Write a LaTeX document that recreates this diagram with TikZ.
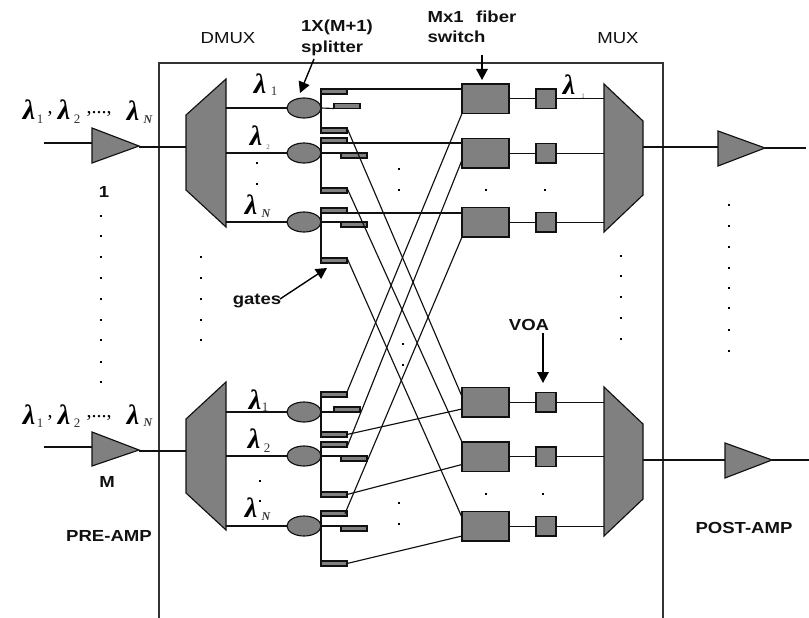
\documentclass[tikz,border=0pt]{standalone}
\usepackage{fontspec}
\usetikzlibrary{shapes.geometric,arrows.meta}
\setmainfont{Liberation Sans}
\newfontfamily\lab[FakeStretch=1.16]{Liberation Sans}
\newfontfamily\lamfont{Liberation Serif}
\definecolor{dev}{HTML}{808080}
\definecolor{ink}{HTML}{111111}
\newcommand{\lamglyph}{{\fontsize{28}{28}\selectfont\lamfont\bfseries\itshape λ}}
\tikzset{
  x=1pt,y=-1pt,
  wire/.style={draw=ink,line width=1.15pt},
  device/.style={draw=ink,line width=1.15pt,fill=dev},
  gatebox/.style={device,anchor=north west,minimum width=26pt,minimum height=5pt,inner sep=0pt,outer sep=0pt},
  swbox/.style={device,anchor=north west,minimum width=47pt,minimum height=29.5pt,inner sep=0pt,outer sep=0pt},
  voabox/.style={device,anchor=north west,minimum width=20pt,minimum height=19.5pt,inner sep=0pt,outer sep=0pt},
  splitbox/.style={device,ellipse,minimum width=34pt,minimum height=20pt,inner sep=0pt,outer sep=0pt},
  plain/.style={inner sep=0pt,outer sep=0pt,text=ink,font=\lab\fontsize{16}{18.5}\selectfont},
  bold/.style={plain,font=\lab\bfseries\fontsize{16}{20.5}\selectfont},
  lamnode/.style={inner sep=0pt,outer sep=0pt,text=black},
  subnode/.style={inner sep=0pt,outer sep=0pt,text=black!80,font=\lamfont\fontsize{13}{13}\selectfont},
  subn/.style={subnode,font=\lamfont\bfseries\itshape\fontsize{12}{12}\selectfont},
  tiny sub/.style={subnode,font=\lamfont\fontsize{7}{7}\selectfont,text=black!60},
  commas/.style={subnode,text=black,font=\lamfont\fontsize{20}{20}\selectfont},
  pointer/.style={draw=black,line width=1.4pt,-{Triangle[length=11pt,width=11.5pt]}},
}
\begin{document}
\begin{tikzpicture}
\useasboundingbox (0,0) rectangle (809,618);
% enclosure
\coordinate (boxa) at (159,618);\coordinate (boxb) at (159,63);\coordinate (boxc) at (663,63);\coordinate (boxd) at (663,618);
\draw[draw=black!80,line width=1.1pt] (boxa)--(boxb)--(boxc)--(boxd);
% wires of amplifiers, drawn under the shapes
\coordinate (in1) at (44,143);\coordinate (amp1w) at (92,143);\coordinate (amp1e) at (139,147);\coordinate (dm1w) at (186,147);
\coordinate (in2) at (44,447);\coordinate (amp2w) at (92,447);\coordinate (amp2e) at (139,451);\coordinate (dm2w) at (186,451);
\coordinate (mx1e) at (643,147);\coordinate (pa1w) at (718,147);\coordinate (pa1e) at (765,148);\coordinate (out1) at (806,148);
\coordinate (mx2e) at (643,460);\coordinate (pa2w) at (725,460);\coordinate (pa2e) at (772,460);\coordinate (out2) at (809,460);
\draw[wire] (in1)--(amp1w) (amp1e)--(dm1w) (in2)--(amp2w) (amp2e)--(dm2w);
\draw[wire] (mx1e)--(pa1w) (pa1e)--(out1) (mx2e)--(pa2w) (pa2e)--(out2);
% amplifiers
\draw[device] (92,128)--(139,146)--(92,163)--cycle;
\draw[device] (92,432)--(139,450)--(92,466)--cycle;
\draw[device] (718,131)--(765,148)--(718,166)--cycle;
\draw[device] (725,443)--(772,460)--(725,478)--cycle;
% demultiplexers and multiplexers
\draw[device] (186,115)--(226,79)--(226,227)--(186,190)--cycle;
\draw[device] (186,419)--(226,382)--(226,530)--(186,493)--cycle;
\draw[device] (604,84)--(643,121)--(643,195)--(604,232)--cycle;
\draw[device] (604,387)--(643,424)--(643,499)--(604,536)--cycle;
\coordinate (dmU) at (226,100);\coordinate (dmL) at (226,400);\coordinate (mxU) at (604,100);\coordinate (mxL) at (604,400);
% splitter blocks
\foreach \k/\dm/\sy/\ta/\mx/\my/\mb/\ba in {
 a/dmU/108/89/334/103.5/128/89,
 b/dmU/153/138/341/153/188/138,
 c/dmU/222/208/341/222/258/208,
 d/dmL/412/392/334/407/432/392,
 e/dmL/456/442/341/456/492/442,
 f/dmL/526/511/341/526/561/511}{
  \node[splitbox] (sp\k) at (304,\sy) {};
  \node[gatebox] (gt\k) at (321,\ta) {};
  \node[gatebox] (gm\k) at (\mx,\my) {};
  \node[gatebox] (gb\k) at (321,\mb) {};
  \draw[wire] (\dm |- sp\k.west) -- (sp\k.west);
  \draw[wire] (gt\k.north west) -- (gb\k.south west);
}
\draw[wire] (spa.east)--(gma.south west);
\draw[wire] (spb.east)--(gmb.north west);
\draw[wire] (spc.east)--(gmc.north west);
\draw[wire] (spd.east)--(gmd.south west);
\draw[wire] (spe.east)--(gme.north west);
\draw[wire] (spf.east)--(gmf.north west);
% switches and VOAs
\foreach \k/\mxn/\sy/\vy in {a/mxU/84/89,b/mxU/138.5/143.5,c/mxU/207.5/212.5,d/mxL/387.5/392.5,e/mxL/442/447,f/mxL/511.5/516.5}{
  \node[swbox] (sw\k) at (462,\sy) {};
  \node[voabox] (vo\k) at (536,\vy) {};
  \draw[wire] (sw\k.east)--(vo\k.west);
  \draw[wire] (vo\k.east)--(\mxn |- vo\k.east);
}
% straight gate-to-switch wires
\draw[wire] (gta.north east)--(gta.north east -| swa.west);
\draw[wire] (gtb.south east)--(gtb.south east -| swb.west);
\draw[wire] (gtc.south east)--(gtc.south east -| swc.west);
% crossing wires
\draw[wire] (gba.north east)--([yshift=-9pt]swd.north west);
\draw[wire] (gbb.north east)--(swe.north west);
\draw[wire] (gbc.north east)--([yshift=-6pt]swf.north west);
\draw[wire] (gtd.north east)--(swa.south west);
\draw[wire] (gte.south east)--([yshift=8pt]swb.south west);
\draw[wire] ([xshift=-2pt]gtf.east)--(swc.south west);
\draw[wire] (gbd.east)--([yshift=8pt]swd.south west);
\draw[wire] (gbe.east)--([yshift=7pt]swe.south west);
\draw[wire] (gbf.east)--([yshift=5pt]swf.south west);
% dots
\foreach \px/\py in {101/216,101/236,101/257,101/278,101/299,101/320,101/340,101/362,101/382,
 201/257,201/278,201/299,201/320,201/340,
 257/163,257/184,260/481,260/501,
 399/169,399/190,403/344,403/365,399/503,399/524,
 486/190,545/190,486/494,543/494,
 621/256,621/276,621/297,621/318,621/339,
 729/205,729/226,729/247,729/268,729/288,729/308,729/330,729/351}{
  \fill[black] (\px-1,\py-1) rectangle ++(2,2);
}
% lambdas
\foreach \k/\px/\py in {A/29/110,B/64/110,C/133/111,D/29/415,E/64/415,F/133/415,
  G/260/84,H/256/136,I/251/205,J/255/400,K/254/439,L/251/508,M/569/85}{
  \node[lamnode] (lam\k) at (\px,\py) {\lamglyph};
}
\node[subnode] (s1) at (40,119) {1};
\node[subnode] (s2) at (77,119) {2};
\node[subn] (s3) at (148,120) {N};
\node[subnode] (s4) at (40,423) {1};
\node[subnode] (s5) at (77,423) {2};
\node[subn] (s6) at (148,423) {N};
\node[subnode] (s7) at (274,91) {1};
\node[tiny sub] (s8) at (268,147) {2};
\node[subn] (s9) at (266,214) {N};
\node[subnode] (s10) at (265,407) {1};
\node[subnode] (s11) at (267,448) {2};
\node[subn] (s12) at (266,517) {N};
\node[tiny sub] (s13) at (583,96) {1};
\node[commas] (c1) at (50,114) {,};
\node[commas] (c2) at (99,114) {,...,};
\node[commas] (c3) at (50,418) {,};
\node[commas] (c4) at (99,418) {,...,};
% labels
\node[plain] (ldmux) at (228,38) {DMUX};
\node[plain] (lmux) at (618,38) {MUX};
\node[bold,align=left] (lsplit) at (337,38) {1X(M+1)\\splitter};
\node[bold,align=left] (lswitch) at (472,27) {Mx1\hspace{0.45em} fiber\\switch};
\node[bold] (lvoa) at (529,325) {VOA};
\node[bold] (lgates) at (257,301) {gates};
\node[bold] (lone) at (104,192) {1};
\node[bold] (lm) at (107,482) {M};
\node[bold] (lpre) at (109,536) {PRE-AMP};
\node[bold] (lpost) at (744,528) {POST-AMP};
% pointers
\coordinate (psplit) at (314,59);\coordinate (psplitend) at (300,93);
\coordinate (psw) at (482,55);\coordinate (pswend) at (482,80);
\coordinate (pvoa) at (543,333);\coordinate (pvoaend) at (543,383);
\coordinate (pgate) at (280,299);\coordinate (pgateend) at (327,268);
\draw[pointer] (psplit)--(psplitend);
\draw[pointer] (psw)--(pswend);
\draw[pointer] (pvoa)--(pvoaend);
\draw[pointer] (pgate)--(pgateend);
\end{tikzpicture}
\end{document}
